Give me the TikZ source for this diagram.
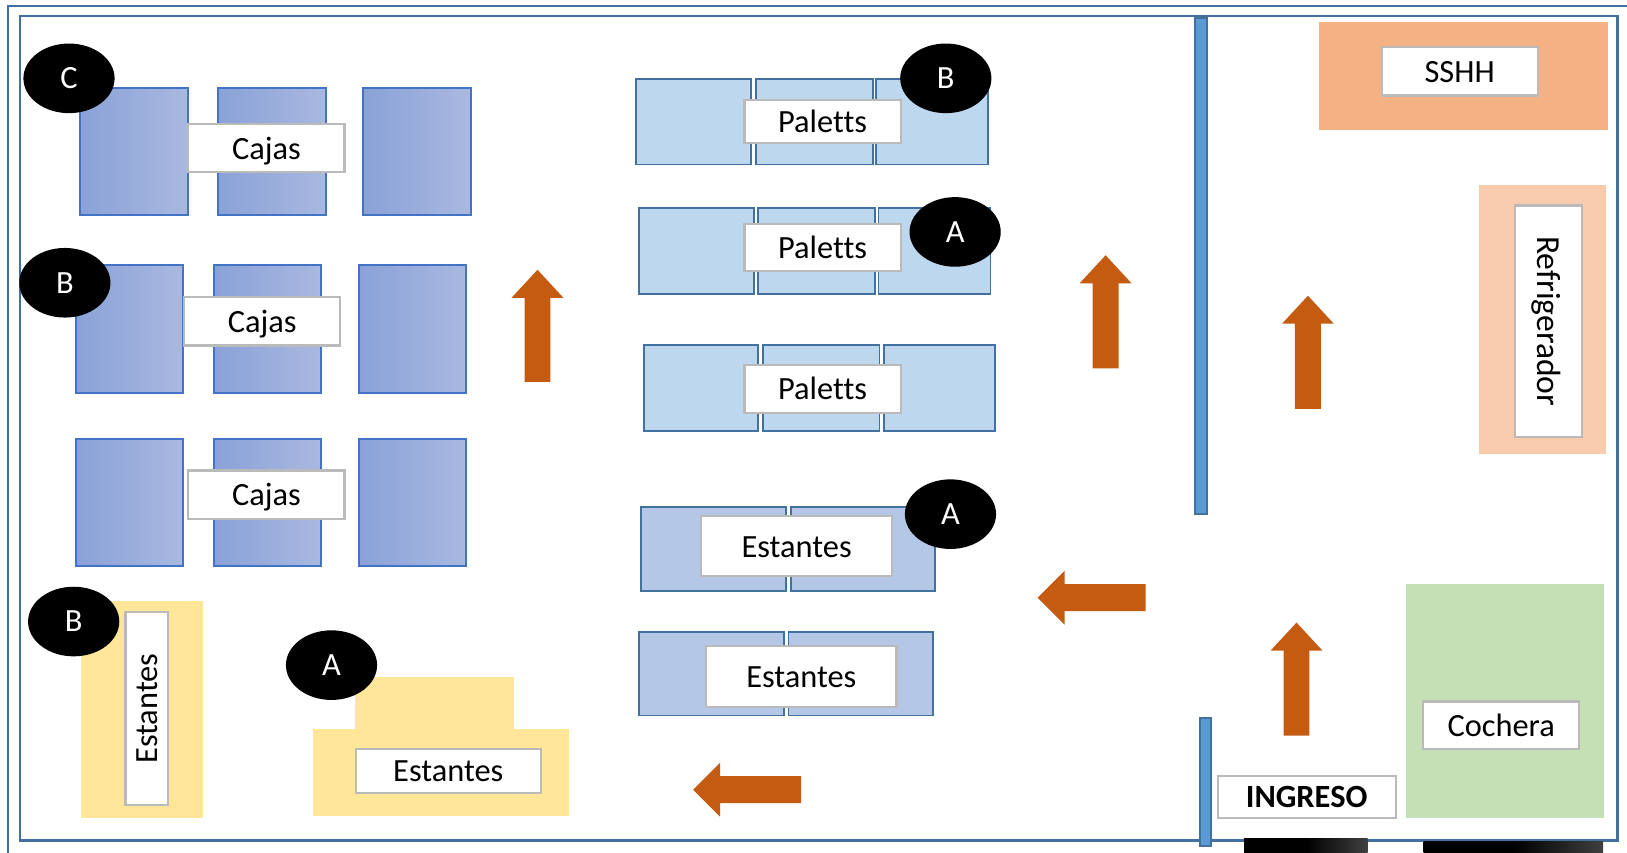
\documentclass[tikz,border=0pt]{standalone}
\usepackage{fontspec}
\setmainfont{Carlito}[Ligatures={NoCommon,NoContextual,NoRequired}]
\usetikzlibrary{shapes.geometric}
\definecolor{frameblue}{HTML}{41719C}
\definecolor{boxline}{HTML}{4472C4}
\definecolor{grA}{HTML}{8AA2D8}
\definecolor{grB}{HTML}{A9B8DF}
\definecolor{palette}{HTML}{BDD7EE}
\definecolor{estfill}{HTML}{B4C7E7}
\definecolor{yel}{HTML}{FFE699}
\definecolor{arrowc}{HTML}{C55A11}
\definecolor{wall}{HTML}{5B9BD5}
\definecolor{peach}{HTML}{F4B183}
\definecolor{lpeach}{HTML}{F8CBAD}
\definecolor{lgreen}{HTML}{C5E0B4}
\tikzset{
  every node/.style={inner sep=0,outer sep=0},
  caja/.style={draw=boxline,line width=1pt,left color=grA,right color=grB},
  lab/.style={draw=black!27,line width=1.1pt,fill=white,font=\fontsize{16.2}{18}\selectfont,text height=14pt,text depth=3pt},
  pal/.style={draw=frameblue,line width=0.95pt,fill=palette},
  est/.style={draw=frameblue,line width=0.95pt,fill=estfill},
  tag/.style={ellipse,fill=black,text=white,minimum width=45.6pt,minimum height=34.8pt,font=\fontsize{16.2}{18}\selectfont,text height=10.4pt,text depth=0pt},
  yzone/.style={fill=yel},
  pzone/.style={fill=peach},
  lpzone/.style={fill=lpeach},
  gzone/.style={fill=lgreen},
  wallbar/.style={draw=frameblue,line width=1pt,fill=wall},
  flow/.style={fill=arrowc},
  framel/.style={draw=frameblue,line width=1.2pt},
  blackbar/.style={left color=black,right color=black!75,middle color=black},
}
% \bx[style]{name}{x1}{y1}{x2}{y2}{text}
\newcommand{\bx}[7][]{\node[#1,minimum width={(#5-#3)*0.5188pt},minimum height={(#6-#4)*0.5188pt}] (#2) at ({(#3+#5)/2},{(#4+#6)/2}) {#7};}
% \vx[angle]{name}{x1}{y1}{x2}{y2}{text}: label turned by the angle
\newcommand{\vx}[7][90]{\node[lab,rotate=#1,minimum width={(#6-#4)*0.5188pt},minimum height={(#5-#3)*0.5188pt}] (#2) at ({(#3+#5)/2},{(#4+#6)/2}) {#7};}
\newcommand{\uparr}[3]{\fill[flow] (#1,#2) -- (#1+25,#2+27) -- (#1+12.5,#2+27) -- (#1+12.5,#3) -- (#1-12.5,#3) -- (#1-12.5,#2+27) -- (#1-25,#2+27) -- cycle;}
\newcommand{\leftarr}[3]{\fill[flow] (#1,#2) -- (#1+26,#2-26) -- (#1+26,#2-13) -- (#3,#2-13) -- (#3,#2+13) -- (#1+26,#2+13) -- (#1+26,#2+26) -- cycle;}
\begin{document}
\begin{tikzpicture}[x=0.5188pt,y=-0.5188pt]
\useasboundingbox (0,0) rectangle (1568,822);
% frames
\draw[framel] (7.5,822) -- (7.5,5.5) -- (1568,5.5);
\draw[framel] (19,15.5) rectangle (1559,810);
% black bars
\bx[blackbar]{barone}{1199}{808}{1318}{822}{}
\bx[blackbar]{bartwo}{1372}{811}{1545}{822}{}
% walls
\bx[wallbar]{wallup}{1152}{17}{1163}{495}{}
\bx[wallbar]{walldown}{1156}{692}{1167}{815}{}
% cajas
\bx[caja]{ca1}{76.8}{84.8}{181.5}{207.5}{}
\bx[caja]{ca2}{209.8}{84.8}{314.5}{207.5}{}
\bx[caja]{ca3}{349.8}{84.8}{453.5}{207.5}{}
\bx[caja]{cb1}{72.8}{255.8}{176.5}{378.5}{}
\bx[caja]{cb2}{205.8}{255.8}{309.5}{378.5}{}
\bx[caja]{cb3}{345.8}{255.8}{449.5}{378.5}{}
\bx[caja]{cc1}{72.8}{422.8}{176.5}{545.5}{}
\bx[caja]{cc2}{205.8}{422.8}{309.5}{545.5}{}
\bx[caja]{cc3}{345.8}{422.8}{449.5}{545.5}{}
\bx[lab]{lca}{181.5}{119.5}{332}{166}{Cajas}
\bx[lab]{lcb}{177.5}{286.5}{328}{333}{Cajas}
\bx[lab]{lcc}{181.5}{453.5}{332}{500}{Cajas}
% paletts
\bx[pal]{pa1}{613.3}{75.8}{724.1}{158.5}{}
\bx[pal]{pa2}{728.6}{75.8}{841}{158.5}{}
\bx[pal]{pa3}{844.4}{75.8}{952.4}{158.5}{}
\bx[pal]{pb1}{615.5}{200.8}{726.3}{283.5}{}
\bx[pal]{pb2}{730.8}{200.8}{843.2}{283.5}{}
\bx[pal]{pb3}{846.6}{200.8}{954.6}{283.5}{}
\bx[pal]{pc1}{620.3}{332.8}{730.8}{415.5}{}
\bx[pal]{pc2}{735.4}{332.8}{847.6}{415.5}{}
\bx[pal]{pc3}{851.6}{332.8}{959.2}{415.5}{}
\bx[lab]{lpa}{717.5}{96.5}{868}{138}{Paletts}
\bx[lab]{lpb}{717.5}{215.5}{868}{261}{Paletts}
\bx[lab]{lpc}{717.5}{351.5}{868}{398}{Paletts}
% estantes centre
\bx[est]{ea1}{618}{488.8}{757.4}{569.5}{}
\bx[est]{ea2}{762}{488.8}{901.2}{569.5}{}
\bx[est]{eb1}{615.8}{608.8}{755.2}{689.5}{}
\bx[est]{eb2}{759.9}{608.8}{899.1}{689.5}{}
\bx[lab]{lea}{675.5}{497.5}{860}{555}{Estantes}
\bx[lab]{leb}{680.5}{622.5}{864}{681}{Estantes}
% yellow zones
\bx[yzone]{yone}{78}{579}{196}{788}{}
\vx{lyb}{121}{590}{162}{776}{Estantes}
\bx[yzone]{ytop}{342}{652}{495}{704}{}
\bx[yzone]{ybase}{302}{703}{548}{786}{}
\bx[lab]{lya}{343}{722}{521}{764}{Estantes}
% right rooms
\bx[pzone]{sshh}{1271}{21}{1550}{125}{}
\bx[lab]{lsshh}{1331.5}{45}{1482}{92}{SSHH}
\bx[lpzone]{refri}{1425}{178}{1548}{438}{}
\vx[-90]{lrefri}{1460}{198}{1525}{421}{\fontsize{16.8}{18}\selectfont Refrigerador}
\bx[gzone]{coch}{1355}{563}{1546}{788}{}
\bx[lab]{lcoch}{1371.5}{676}{1522}{722}{Cochera}
\bx[lab,font=\fontsize{16.2}{18}\selectfont\bfseries]{ingreso}{1173.5}{747.5}{1345}{788}{INGRESO}
% arrows
\uparr{518}{260}{368}
\uparr{1065.5}{246}{355}
\uparr{1260.5}{285}{394}
\uparr{1249.5}{600}{709}
\leftarr{1000}{576}{1104}
\leftarr{668}{761}{772}
% tags
\node[tag] (tc) at (66.5,75.5) {C};
\node[tag] (tb1) at (62.5,272.5) {B};
\node[tag] (tb2) at (911.5,75.5) {B};
\node[tag] (ta1) at (920.5,223.5) {A};
\node[tag] (ta2) at (916,495.5) {A};
\node[tag] (tb3) at (71,599) {B};
\node[tag] (ta3) at (319.5,641) {A};
\end{tikzpicture}
\end{document}
